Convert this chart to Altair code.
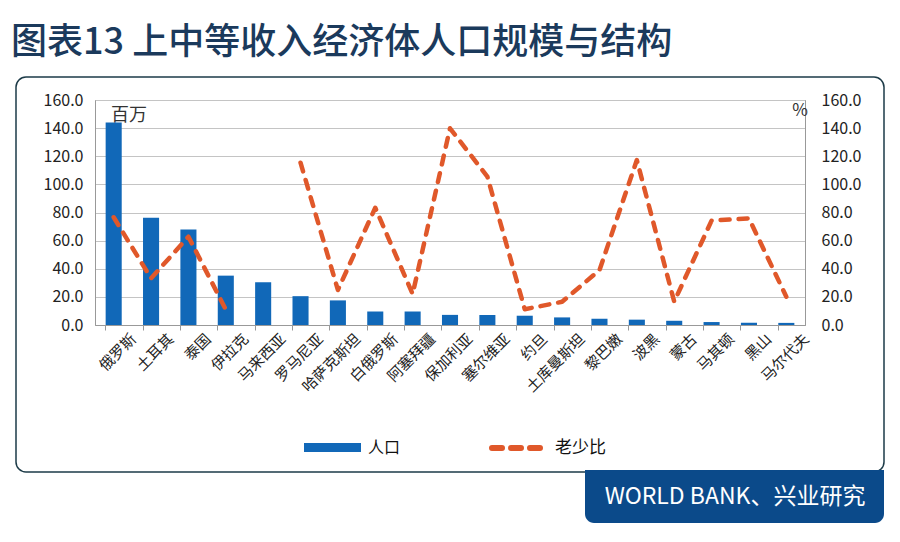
import altair as alt
import pandas as pd

countries = ["俄罗斯", "土耳其", "泰国", "伊拉克", "马来西亚", "罗马尼亚", "哈萨克斯坦",
             "白俄罗斯", "阿塞拜疆", "保加利亚", "塞尔维亚", "约旦", "土库曼斯坦", "黎巴嫩",
             "波黑", "蒙古", "马其顿", "黑山", "马尔代夫"]
population = [144.0, 76.3, 68.0, 35.1, 30.4, 20.5, 17.5, 9.6, 9.6, 7.2, 7.1, 6.6, 5.4,
              4.5, 3.8, 3.0, 2.1, 1.6, 1.5]
ratio = [76.6, 33.2, 62.8, 11.0, None, 115.4, 24.9, 83.4, 22.0, 139.9, 105.5, 11.2, 16.5,
         39.0, 117.3, 16.6, 74.2, 75.8, 20.1]
y_ticks = [0, 20, 40, 60, 80, 100, 120, 140, 160]

FONT = "Noto Sans CJK SC"
BLUE = "#1168B8"
ORANGE = "#E0582A"

# segments so the missing value breaks the line
seg, s = [], 0
for v in ratio:
    if v is None:
        s += 1
    seg.append(s)

df = pd.DataFrame({"country": countries, "pop": population, "ratio": ratio, "seg": seg})
line_df = df.dropna(subset=["ratio"])

xenc = alt.X("country:N", sort=countries, title=None,
             scale=alt.Scale(paddingInner=0.57, paddingOuter=0.285),
             axis=alt.Axis(labelAngle=-45, labelAlign="right", labelBaseline="middle",
                           labelFontSize=15, labelColor="#222", labelFont=FONT,
                           bandPosition=0, labelOffset=20, labelPadding=6,
                           tickSize=5, tickColor="#999", domainColor="#999",
                           labelOverlap=False))

one = alt.Data(values=[{}])

# outer rounded frame
frame = alt.Chart(one).mark_rect(filled=False, stroke="#1d3b48", strokeWidth=1.5,
                                  cornerRadius=10).encode(
    x=alt.value(-79), x2=alt.value(789), y=alt.value(-23), y2=alt.value(372))

footer = alt.Chart(one).mark_rect(fill="#0B4A8A", cornerRadiusBottomLeft=9,
                                   cornerRadiusBottomRight=9).encode(
    x=alt.value(490), x2=alt.value(789), y=alt.value(370), y2=alt.value(423))

footer_text = alt.Chart(one).mark_text(text="WORLD BANK、兴业研究", font=FONT, fontSize=23,
                                        color="white", align="center", baseline="middle").encode(
    x=alt.value(640), y=alt.value(397))

title = alt.Chart(one).mark_text(text="图表13 上中等收入经济体人口规模与结构", font=FONT,
                                  fontSize=36, fontWeight=500, color="#1B3A5C",
                                  align="left", baseline="middle").encode(
    x=alt.value(-84), y=alt.value(-57))

unit_left = alt.Chart(one).mark_text(text="百万", font=FONT, fontSize=18, color="#333",
                                      align="left", baseline="middle").encode(
    x=alt.value(16), y=alt.value(16))

unit_right = alt.Chart(one).mark_text(text="%", font=FONT, fontSize=17, color="#333",
                                       align="center", baseline="middle").encode(
    x=alt.value(705), y=alt.value(11))

bars = alt.Chart(df).mark_bar(color=BLUE).encode(
    x=xenc,
    y=alt.Y("pop:Q", title=None, scale=alt.Scale(domain=[0, 160], nice=False),
            axis=alt.Axis(values=y_ticks, format=".1f", orient="left", ticks=False,
                          labelFontSize=16, labelColor="#222", labelFont=FONT,
                          labelPadding=12, domainColor="#999", gridColor="#C4C4C4",
                          grid=True)))

line = alt.Chart(line_df).mark_line(color=ORANGE, strokeWidth=4.5, strokeDash=[9, 9],
                                    strokeCap="round", strokeJoin="round").encode(
    x=alt.X("country:N", sort=countries),
    y=alt.Y("ratio:Q", title=None, scale=alt.Scale(domain=[0, 160], nice=False),
            axis=alt.Axis(values=y_ticks, format=".1f", orient="right", ticks=False,
                          labelFontSize=16, labelColor="#222", labelFont=FONT,
                          labelPadding=16, domainColor="#999", grid=False)),
    detail="seg:N")

# legend
leg_bar = alt.Chart(one).mark_rect(color=BLUE).encode(
    x=alt.value(209), x2=alt.value(266), y=alt.value(343), y2=alt.value(352))
leg_bar_t = alt.Chart(one).mark_text(text="人口", font=FONT, fontSize=16, color="#111",
                                      align="left", baseline="middle").encode(
    x=alt.value(273), y=alt.value(348))
leg_line = alt.Chart(one).mark_rule(color=ORANGE, strokeWidth=6, strokeDash=[10, 9],
                                     strokeCap="round").encode(
    x=alt.value(397), x2=alt.value(447), y=alt.value(348))
leg_line_t = alt.Chart(one).mark_text(text="老少比", font=FONT, fontSize=17, color="#111",
                                       align="left", baseline="middle").encode(
    x=alt.value(460), y=alt.value(348))

chart = alt.layer(frame, footer, footer_text, title, leg_bar, leg_bar_t, leg_line,
                  leg_line_t, unit_left, unit_right, bars, line).resolve_scale(
    y="independent").properties(
    width=710, height=225,
    autosize=alt.AutoSizeParams(type="none"),
    padding={"left": 95, "top": 100, "right": 95, "bottom": 217},
    background="white",
).configure_view(stroke="#999", strokeWidth=1)

chart.save("out.html", embed_options={"renderer": "svg", "actions": False})
